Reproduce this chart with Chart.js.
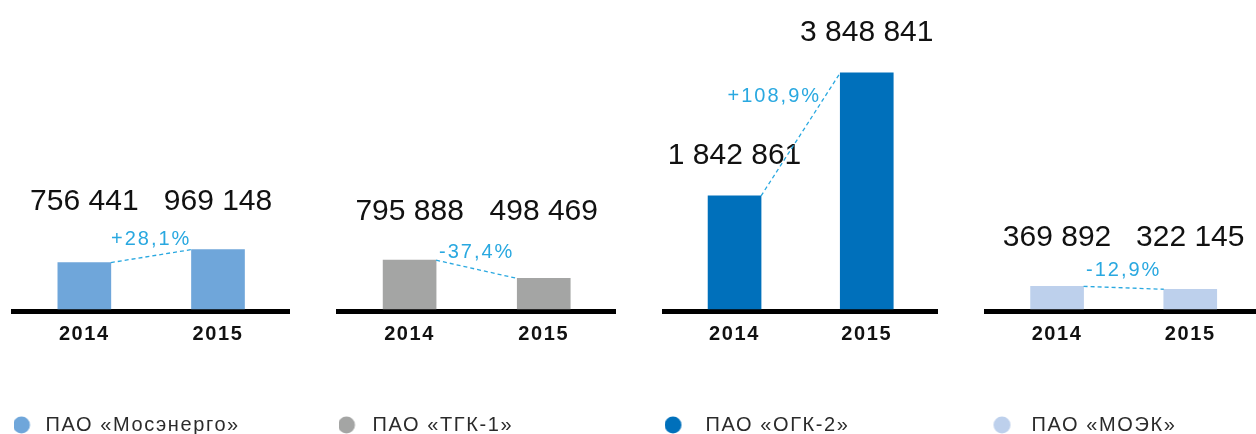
<!DOCTYPE html>
<html>
<head>
<meta charset="utf-8">
<script src="https://cdn.jsdelivr.net/npm/chart.js@4.4.0/dist/chart.umd.min.js"></script>
<style>
  html, body { margin: 0; padding: 0; background: #fff; overflow: hidden; }
  #wrap { position: relative; width: 1256px; height: 434px; overflow: hidden; }
  #wrap canvas { position: absolute; top: 0; }
</style>
</head>
<body>
<div id="wrap">
  <canvas id="c0"></canvas>
  <canvas id="c1"></canvas>
  <canvas id="c2"></canvas>
  <canvas id="c3"></canvas>
</div>
<script>
Chart.defaults.font.family = '"Liberation Sans", Arial, sans-serif';
Chart.defaults.font.size = 20;

// data
const years = ['2014', '2015'];
const companies = ['ПАО «Мосэнерго»', 'ПАО «ТГК-1»', 'ПАО «ОГК-2»', 'ПАО «МОЭК»'];
const mosenergo = [756441, 969148];
const tgk1 = [795888, 498469];
const ogk2 = [1842861, 3848841];
const moek = [369892, 322145];
const changes = ['+28,1%', '-37,4%', '+108,9%', '-12,9%'];

const colors = ['#6fa6da', '#a4a5a4', '#0070bb', '#bdd0ec'];
const accent = '#29a8e0';

// layout of the four panels (page pixels)
const axisStart = [11, 336, 662, 984];
const axisEnd = [290, 616, 938, 1262];
const dotX = [21.5, 346.5, 673, 1002];
const textX = [45, 372, 705, 1031];

function spaced(n) {
    return String(n).replace(/\B(?=(\d{3})+(?!\d))/g, ' ');
}

function dot(color, cx, w) {
    const c = document.createElement('canvas');
    c.width = w;
    c.height = 18;
    const g = c.getContext('2d');
    g.fillStyle = color;
    g.beginPath();
    g.arc(cx, 9, 8.5, 0, Math.PI * 2);
    g.fill();
    return c;
}

const tracking = {
    id: 'tracking',
    beforeDraw(chart) { chart.ctx.letterSpacing = '1.6px'; },
    afterDraw(chart) { chart.ctx.letterSpacing = '0px'; }
};

function labels(change) {
    return {
        id: 'barLabels',
        afterDatasetsDraw(chart) {
            const ctx = chart.ctx;
            const bars = chart.getDatasetMeta(0).data;
            const values = chart.data.datasets[0].data.map((d) => d.y);
            const a = bars[0], b = bars[1];
            const steep = Math.abs(a.y - b.y) > 60;

            ctx.save();
            ctx.letterSpacing = '0px';
            ctx.font = '30px "Liberation Sans", Arial, sans-serif';
            ctx.fillStyle = '#111';
            ctx.textAlign = 'center';
            ctx.textBaseline = 'alphabetic';
            bars.forEach((bar, j) => {
                const y = steep ? bar.y - 31.5 : Math.min(a.y, b.y) - 40;
                ctx.fillText(spaced(values[j]), bar.x, y);
            });

            const x0 = a.x + a.width / 2, x1 = b.x - b.width / 2;
            ctx.strokeStyle = accent;
            ctx.lineWidth = 1.3;
            ctx.setLineDash([4, 3]);
            ctx.beginPath();
            ctx.moveTo(x0, a.y);
            ctx.lineTo(x1, b.y);
            ctx.stroke();

            ctx.font = '20px "Liberation Sans", Arial, sans-serif';
            ctx.fillStyle = accent;
            ctx.letterSpacing = '2px';
            if (steep) {
                const base = Math.min(a.y, b.y) + 0.24 * Math.abs(a.y - b.y);
                const t = (base - 7.5 - a.y) / (b.y - a.y);
                ctx.textAlign = 'right';
                ctx.fillText(change, x0 + t * (x1 - x0) - 5, base);
            } else {
                ctx.textAlign = 'center';
                ctx.fillText(change, (x0 + x1) / 2, (a.y + b.y) / 2 - 11.5);
            }
            ctx.restore();
        }
    };
}

function panel(i, values) {
    const canvas = document.getElementById('c' + i);
    const left = axisStart[i] - 1;
    canvas.width = axisEnd[i] - axisStart[i] + 2;
    canvas.height = 445;
    canvas.style.left = left + 'px';

    const itemX = axisStart[i] + 2.5;
    const boxW = Math.round(textX[i] - 10 - itemX);

    new Chart(canvas, {
        type: 'bar',
        data: {
            datasets: [{
                label: companies[i],
                data: values.map((v, j) => ({x: j, y: v})),
                backgroundColor: colors[i],
                barThickness: 53,
            }]
        },
        options: {
            responsive: false,
            animation: false,
            events: [],
            layout: {
                padding: {left: 3.5, right: 3.5, top: 20.5, bottom: 0}
            },
            scales: {
                x: {
                    type: 'linear',
                    min: -0.53,
                    max: 1.52,
                    offset: false,
                    grid: {display: false, offset: false, lineWidth: 5},
                    border: {display: true, color: '#000', width: 5},
                    ticks: {
                        stepSize: 1,
                        includeBounds: false,
                        padding: 3,
                        color: '#111',
                        font: {size: 20, weight: 'bold'},
                        callback: (v) => years[v],
                    },
                    afterFit: (scale) => { scale.height = 103.5; },
                },
                y: {
                    display: false,
                    min: -40000,
                    max: 4700000,
                }
            },
            plugins: {
                legend: {
                    position: 'bottom',
                    align: 'start',
                    labels: {
                        usePointStyle: true,
                        pointStyle: dot(colors[i], dotX[i] - itemX, boxW),
                        pointStyleWidth: boxW,
                        boxHeight: 20,
                        padding: 0,
                        color: '#2b2b2b',
                        font: {size: 20},
                    }
                },
                tooltip: {enabled: false}
            }
        },
        plugins: [tracking, labels(changes[i])]
    });
}

panel(0, mosenergo);
panel(1, tgk1);
panel(2, ogk2);
panel(3, moek);
</script>
</body>
</html>
